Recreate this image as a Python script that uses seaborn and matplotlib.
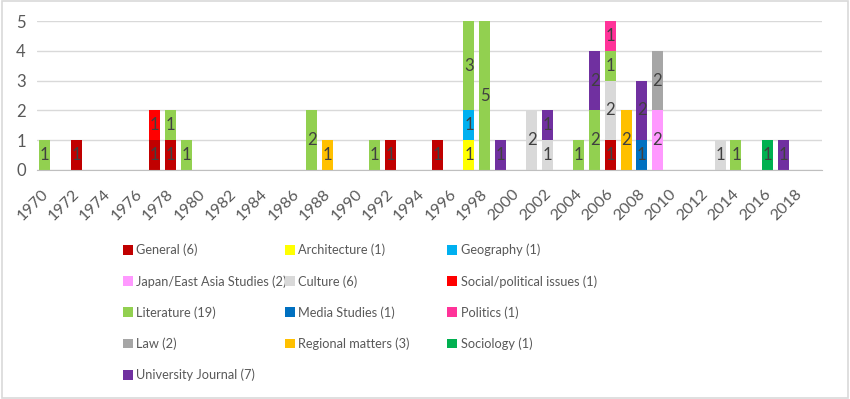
import numpy as np
import pandas as pd
import seaborn as sns
import matplotlib.pyplot as plt
from matplotlib.patches import Patch, Rectangle
from matplotlib.transforms import ScaledTranslation

sns.set_style("white")
plt.rcParams['font.family'] = ['Lato', 'DejaVu Sans']

# -------------------------------
# data: publications per year, by category
# -------------------------------
years = list(range(1970, 2020))
tick_years = list(range(1970, 2019, 2))

categories = ['General (6)', 'Architecture (1)', 'Geography (1)',
              'Japan/East Asia Studies (2)', 'Culture (6)', 'Social/political issues (1)',
              'Literature (19)', 'Media Studies (1)', 'Politics (1)',
              'Law (2)', 'Regional matters (3)', 'Sociology (1)',
              'University Journal (7)']
colors = ['#C00000', '#FFFF00', '#00B0F0',
          '#FF99FF', '#D9D9D9', '#FF0000',
          '#92D050', '#0070C0', '#FF3399',
          '#A6A6A6', '#FFC000', '#00B050',
          '#7030A0']

general = {1972: 1, 1977: 1, 1978: 1, 1992: 1, 1995: 1, 2006: 1}
architecture = {1997: 1}
geography = {1997: 1}
japan = {2009: 2}
culture = {2001: 2, 2002: 1, 2006: 2, 2013: 1}
social = {1977: 1}
literature = {1970: 1, 1978: 1, 1979: 1, 1987: 2, 1991: 1, 1997: 3, 1998: 5,
              2004: 1, 2005: 2, 2006: 1, 2014: 1}
media = {2008: 1}
politics = {2006: 1}
law = {2009: 2}
regional = {1988: 1, 2007: 2}
sociology = {2016: 1}
university = {1999: 1, 2002: 1, 2005: 2, 2008: 2, 2017: 1}

series = [general, architecture, geography, japan, culture, social, literature,
          media, politics, law, regional, sociology, university]

rows = []
for cat, s in zip(categories, series):
    for y, n in s.items():
        rows.append({'year': y, 'cat': cat, 'n': n})
df = pd.DataFrame(rows)
palette = dict(zip(categories, colors))

# -------------------------------
# plot
# -------------------------------
fig = plt.figure(figsize=(8.5, 3.99), dpi=100)
ax = fig.add_axes([0.0435, 0.574, 0.924, 0.373])

# seaborn stacks the last hue level at the bottom -> reverse
sns.histplot(data=df, x='year', weights='n', hue='cat',
             hue_order=categories[::-1], palette=palette,
             multiple='stack', discrete=True, shrink=0.7,
             alpha=1, linewidth=0, legend=False, ax=ax)

for p in ax.patches:
    h = p.get_height()
    if h > 0:
        ax.text(p.get_x() + p.get_width() / 2, p.get_y() + h / 2, f"{h:.0f}",
                ha='center', va='center', fontsize=12, color='#404040')

ax.set_xlim(1969.5, 2019.5)
ax.set_ylim(0, 5)
ax.set_yticks(range(6))
ax.set_xticks(tick_years)
ax.set_xticks(np.arange(1969.5, 2020, 1), minor=True)
ax.set_xticklabels([str(y) for y in tick_years], rotation=45, ha='right',
                   rotation_mode='anchor')
ax.tick_params(axis='x', which='major', length=0, pad=12, labelsize=11.5,
               labelcolor='#595959')
ax.tick_params(axis='x', which='minor', length=5, color='#BFBFBF', direction='out')
ax.tick_params(axis='y', length=0, labelsize=12, labelcolor='#595959', pad=8)
shift = ScaledTranslation(-4 / 100, 0, fig.dpi_scale_trans)
for lab in ax.get_xticklabels():
    lab.set_transform(lab.get_transform() + shift)
ax.grid(axis='y', color='#D9D9D9', linewidth=1)
ax.set_axisbelow(True)
for side in ['top', 'right', 'left']:
    ax.spines[side].set_visible(False)
ax.spines['bottom'].set_color('#BFBFBF')
ax.set_xlabel('')
ax.set_ylabel('')

# legend: three fixed-width columns, filled row by row
handles = [Patch(facecolor=c, edgecolor='none') for c in colors]
col_x = [0.1447, 0.335, 0.526]
for k, x0 in enumerate(col_x):
    idx = list(range(k, len(categories), 3))
    fig.legend([handles[i] for i in idx], [categories[i] for i in idx],
               loc='upper left', bbox_to_anchor=(x0, 0.389), frameon=False,
               fontsize=9.2, handlelength=0.8, handleheight=0.8,
               handletextpad=0.25, labelspacing=1.46, borderpad=0,
               borderaxespad=0, labelcolor='#595959')

fig.patches.append(Rectangle((0.002, 0.003), 0.996, 0.994, transform=fig.transFigure,
                             fill=False, edgecolor='#D9D9D9', linewidth=1.2))

plt.savefig('out.png', dpi=100)
